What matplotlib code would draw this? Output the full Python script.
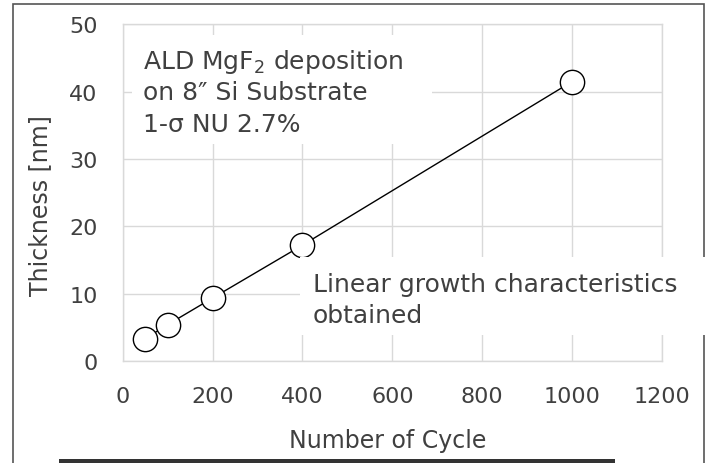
import numpy as np
import matplotlib.pyplot as plt
from matplotlib.patches import Rectangle

# data
cycles = [50, 100, 200, 400, 1000]
thickness = [3.3, 5.4, 9.35, 17.2, 41.5]

x_ticks = [0, 200, 400, 600, 800, 1000, 1200]
y_ticks = [0, 10, 20, 30, 40, 50]

note_lines = ["ALD MgF$_2$ deposition", "on 8\u2033 Si Substrate", "1-\u03c3 NU 2.7%"]
growth_lines = ["Linear growth characteristics", "obtained"]

W, H = 709, 464
GREY = '#404040'
GRID = '#d9d9d9'


def fx(x):
    return x / W


def fy(y):
    return 1 - y / H


fig = plt.figure(figsize=(W / 100, H / 100), dpi=100)
ax = fig.add_axes([fx(122.7), fy(362), fx(662) - fx(122.7), fy(25.3) - fy(362)])

ax.plot(cycles, thickness, color='black', lw=1.0, marker='o', ms=17.5,
        mfc='white', mec='black', mew=1.0, zorder=3, clip_on=False)

ax.set_xlim(0, 1200)
ax.set_ylim(0, 50)
ax.set_xticks(x_ticks)
ax.set_yticks(y_ticks)
ax.grid(True, color=GRID, lw=1.0)
ax.set_axisbelow(True)
for s in ax.spines.values():
    s.set_color(GRID)
    s.set_linewidth(1.0)
ax.tick_params(length=0, labelsize=16, labelcolor=GREY)
ax.tick_params(axis='x', pad=18)
ax.tick_params(axis='y', pad=18)

ax.set_xlabel("Number of Cycle", fontsize=17, color=GREY)
ax.set_ylabel("Thickness [nm]", fontsize=17, color=GREY)
ax.xaxis.set_label_coords(0.492, -0.2)
ax.yaxis.set_label_coords(-0.13, 0.466)

# outer frame and the bar cut off at the bottom
fig.add_artist(Rectangle((fx(12.5), fy(475)), fx(704) - fx(12.5), fy(5) - fy(475),
                         transform=fig.transFigure, fill=False, ec='#555555', lw=1.2, zorder=1))
fig.add_artist(Rectangle((fx(59), fy(470)), fx(615) - fx(59), fy(460.5) - fy(470),
                         transform=fig.transFigure, fc='#333333', ec='none', zorder=1))

# text boxes with white backgrounds
fig.add_artist(Rectangle((fx(132), fy(145)), fx(432) - fx(132), fy(36) - fy(145),
                         transform=fig.transFigure, fc='white', ec='none', zorder=2))
fig.add_artist(Rectangle((fx(300), fy(336)), fx(712) - fx(300), fy(258) - fy(336),
                         transform=fig.transFigure, fc='white', ec='none', zorder=2))

for i, line in enumerate(note_lines):
    fig.text(fx(143), fy(69 + 31.3 * i), line, fontsize=18, color=GREY,
             va='baseline', ha='left', zorder=3)
for i, line in enumerate(growth_lines):
    fig.text(fx(313), fy(292 + 31.3 * i), line, fontsize=18, color=GREY,
             va='baseline', ha='left', zorder=3)

fig.savefig("out.png", dpi=100)
